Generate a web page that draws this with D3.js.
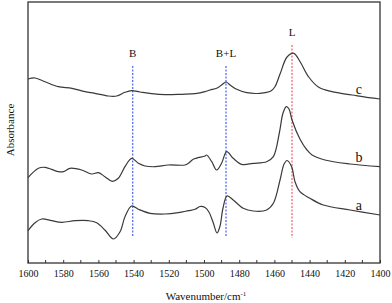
<!DOCTYPE html>
<html lang="en">
<head>
<meta charset="utf-8">
<title>IR spectra</title>
<script src="https://d3js.org/d3.v7.min.js"></script>
<style>
	html, body { margin: 0; padding: 0; background: #fff; }
	svg { display: block; }
	svg text { font-family: "Liberation Serif", "DejaVu Serif", serif; fill: #111; }
	.curve { fill: none; stroke: #3a3a3a; stroke-width: 1.2; }
	.frame { fill: none; stroke: #333; stroke-width: 1.3; }
</style>
</head>
<body>
<script>
// wavenumbers (cm-1) and absorbance (arbitrary units)
var wnA = [1600,1596,1592.2,1586.5,1580.9,1573.3,1565.7,1561,1556.3,1551.5,1547.7,1544.9,1541.1,1537.3,1530.7,1522.2,1514.6,1508.9,1505.1,1502.3,1499.4,1497.2,1494.9,1492.6,1490.9,1489.2,1486.9,1483.4,1477.7,1472,1464.4,1460.6,1456.8,1454.5,1452.8,1450.2,1448.3,1445.5,1439.8,1432.2,1417,1400];
var absA = [0.323,0.403,0.44,0.423,0.407,0.423,0.423,0.403,0.33,0.24,0.313,0.463,0.57,0.537,0.497,0.49,0.503,0.523,0.537,0.565,0.555,0.51,0.41,0.30,0.37,0.55,0.67,0.63,0.547,0.52,0.53,0.597,0.83,0.99,1.025,0.963,0.813,0.713,0.647,0.58,0.53,0.48];

var wnB = [1600,1594.1,1590.3,1582.8,1579.9,1576.1,1569.5,1563.8,1560,1556.3,1552.1,1548.7,1544.9,1541.1,1537.3,1533.5,1527.8,1520.3,1510.8,1508.9,1506.1,1499.4,1498.5,1495.6,1492.8,1490,1487.1,1483.4,1478.6,1472,1464.4,1460.6,1457.2,1455.1,1453.2,1451.7,1450,1445.5,1441.5,1438.6,1431.3,1417,1400];
var absB = [0.853,0.947,0.957,0.913,0.913,0.947,0.93,0.89,0.903,0.863,0.817,0.847,0.963,1.047,0.997,0.97,0.963,0.98,0.98,0.997,1.037,1.07,1.08,1.013,0.93,0.997,1.113,1.047,0.987,0.997,1.013,1.063,1.30,1.50,1.563,1.54,1.43,1.24,1.13,1.08,1.03,0.99,0.963];

var wnC = [1600,1596,1590.3,1582.8,1575,1567.6,1562,1554.4,1549.6,1544.9,1541.1,1536.4,1529.7,1522,1512.7,1505,1499.4,1496.6,1492.8,1490,1487.5,1485.2,1481.4,1475.7,1468.2,1462,1459.7,1456.8,1452.8,1449,1445.3,1440.5,1434.8,1427.3,1415.9,1406.4,1400];
var absC = [1.84,1.85,1.813,1.763,1.747,1.713,1.697,1.67,1.67,1.707,1.723,1.71,1.693,1.683,1.687,1.693,1.713,1.73,1.747,1.78,1.81,1.78,1.737,1.703,1.697,1.72,1.763,1.89,2.06,2.097,2.01,1.86,1.757,1.713,1.68,1.653,1.64];

var seriesNames = ["a", "b", "c"];

// band markers: name, wavenumber, top and bottom of the dashed line (absorbance units)
var bandNames = ["B", "B+L", "L"];
var bandWn = [1540.5, 1487.5, 1450];
var bandTop = [1.97, 1.97, 2.18];
var bandBottom = [0.27, 0.27, 0.25];
var bandColors = ["#4a63f0", "#4a63f0", "#f0606e"];

var xTicks = [1600,1580,1560,1540,1520,1500,1480,1460,1440,1420,1400];

var serif = "'Liberation Serif', 'DejaVu Serif', serif";

//描画エリア
var width = 392, height = 303;
var margin = {top: 2, right: 12, bottom: 40, left: 28};

var svg = d3.select("body").append("svg").attr("width", width).attr("height", height)
	.attr("font-family", serif);

var x = d3.scaleLinear().domain([1600, 1400]).range([margin.left, width - margin.right]);
var y = d3.scaleLinear().domain([0, 2.61]).range([height - margin.bottom, margin.top]);

// bottom axis: ticks point inward, minor every 10
var xAxis = d3.axisBottom(x).tickValues(xTicks).tickSize(-3).tickPadding(7).tickFormat(d3.format("d"));
var gx = svg.append("g").attr("transform", "translate(0," + (height - margin.bottom) + ")").call(xAxis)
	.attr("font-family", serif).attr("font-size", 10);
gx.select(".domain").remove();
gx.selectAll("line").attr("stroke", "#333");
gx.selectAll("text").attr("fill", "#111");
var minor = d3.range(1590, 1400, -20);
gx.selectAll(".minor").data(minor).enter().append("line")
	.attr("class", "minor")
	.attr("x1", function(d){ return x(d); }).attr("x2", function(d){ return x(d); })
	.attr("y1", 0).attr("y2", -3).attr("stroke", "#333");

// frame
svg.append("rect").attr("class", "frame")
	.attr("x", margin.left).attr("y", margin.top)
	.attr("width", width - margin.left - margin.right)
	.attr("height", height - margin.top - margin.bottom);

// band dashed lines and labels
bandNames.forEach(function(name, i){
	svg.append("line")
		.attr("x1", x(bandWn[i])).attr("x2", x(bandWn[i]))
		.attr("y1", y(bandTop[i])).attr("y2", y(bandBottom[i]))
		.attr("stroke", bandColors[i]).attr("stroke-width", 1.2)
		.attr("stroke-dasharray", "2,1.5");
	svg.append("text")
		.attr("x", x(bandWn[i])).attr("y", y(bandTop[i]) - 9)
		.attr("text-anchor", "middle")
		.attr("font-size", 11)
		.text(name);
});

// spectra
var line = d3.line()
	.x(function(d){ return x(d[0]); })
	.y(function(d){ return y(d[1]); })
	.curve(d3.curveCatmullRom.alpha(0.5));

var allWn = [wnA, wnB, wnC];
var allAbs = [absA, absB, absC];
allWn.forEach(function(wn, k){
	var pts = d3.zip(wn, allAbs[k]);
	svg.append("path").attr("class", "curve").attr("d", line(pts));
	// curve name at the right end
	svg.append("text")
		.attr("x", x(1412)).attr("y", y(allAbs[k][allAbs[k].length - 1]) - 5)
		.attr("text-anchor", "middle")
		.attr("font-size", 14)
		.text(seriesNames[k]);
});

// axis titles
svg.append("text")
	.attr("transform", "translate(14,130) rotate(-90)")
	.attr("text-anchor", "middle")
	.attr("font-size", 11)
	.text("Absorbance");

var xt = svg.append("text")
	.attr("x", (margin.left + width - margin.right) / 2 + 2).attr("y", 300)
	.attr("text-anchor", "middle")
	.attr("font-size", 11);
xt.append("tspan").text("Wavenumber/cm");
xt.append("tspan").attr("dy", -4).attr("font-size", 7).text("-1");
</script>
</body>
</html>
